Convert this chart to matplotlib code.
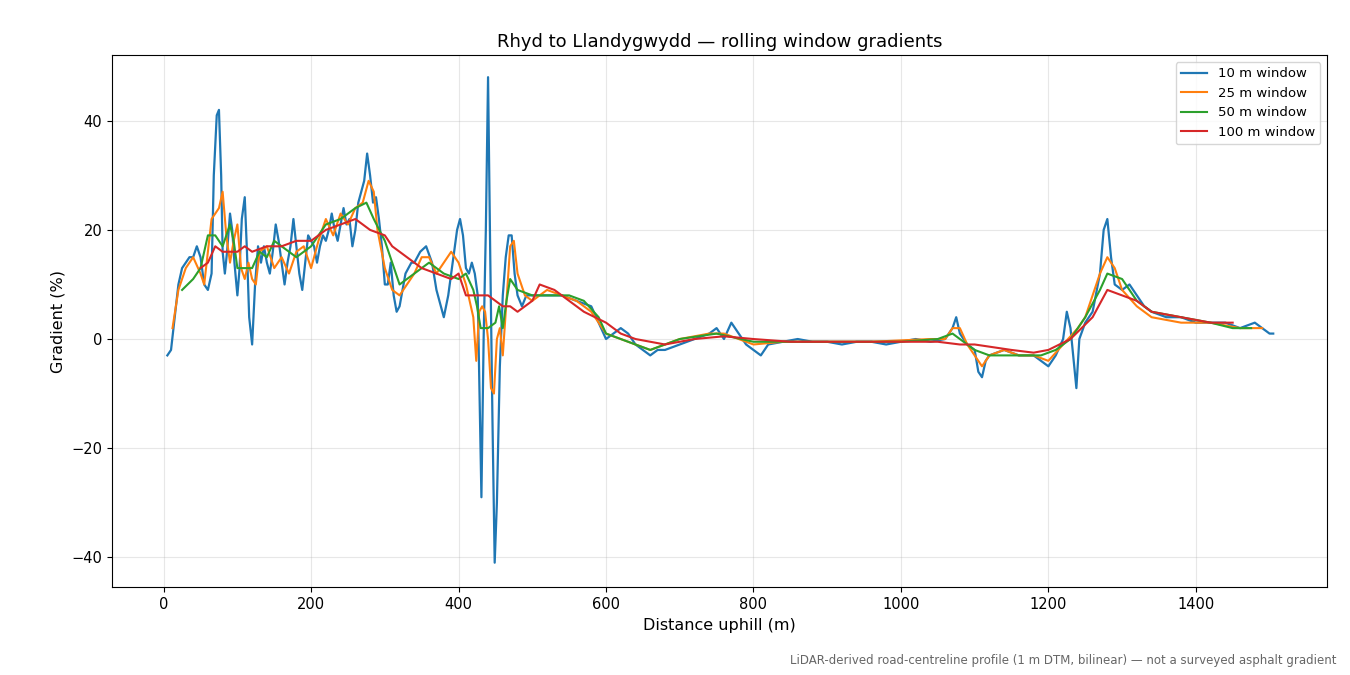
import numpy as np
import matplotlib
matplotlib.use("Agg")
from matplotlib import pyplot as plt

# values (distance m, gradient %)
w10_x = [5,10,15,20,25,30,35,40,45,50,55,60,65,68,72,75,78,80,83,86,90,93,96,100,103,106,110,113,116,120,124,128,132,136,140,144,148,152,156,160,164,168,172,176,180,184,188,192,196,200,204,208,212,216,220,224,228,232,236,240,244,248,252,256,260,264,268,272,276,280,284,288,292,296,300,304,308,312,316,320,324,328,332,336,340,348,356,364,370,376,380,386,392,398,402,406,410,414,418,422,426,431,434,437,440,443,446,449,452,456,460,464,468,472,476,480,486,492,500,520,540,560,580,590,600,610,620,630,640,650,660,670,680,700,720,740,750,760,770,780,790,800,810,820,840,860,880,900,920,940,960,980,1000,1020,1040,1060,1070,1075,1080,1090,1100,1105,1110,1115,1120,1140,1160,1180,1200,1210,1220,1225,1230,1235,1238,1242,1250,1260,1270,1275,1280,1285,1290,1300,1310,1320,1330,1340,1360,1380,1400,1420,1440,1460,1480,1490,1500,1505]
w10_y = [-3,-2,4,10,13,14,15,15,17,15,10,9,12,30,41,42,30,16,12,16,23,20,14,8,13,22,26,16,4,-1,10,17,14,17,14,12,16,21,18,14,10,14,17,22,17,12,9,14,19,18,17,14,17,19,18,20,23,20,18,21,24,21,22,17,20,25,27,29,34,30,25,26,22,17,10,10,14,8,5,6,9,12,13,14,14,16,17,14,9,6,4,8,14,20,22,19,13,12,14,12,8,-29,0,20,48,15,-15,-41,-30,-5,8,15,19,19,12,8,6,8,8,8,8,7,6,3,0,1,2,1,-1,-2,-3,-2,-2,-1,0,1,2,0,3,1,-1,-2,-3,-1,-0.5,0,-0.5,-0.5,-1,-0.5,-0.5,-1,-0.5,0,-0.5,0,2,4,1,-1,-2,-6,-7,-4,-3,-2,-3,-3,-5,-3,0,5,2,-5,-9,0,3,5,12,20,22,15,10,9,10,8,6,5,4,4,3,3,3,2,3,2,1,1]

w25_x = [12,20,30,40,50,55,60,65,70,75,80,85,90,95,100,105,110,115,120,125,130,140,150,160,170,180,190,200,210,220,230,240,250,260,270,278,285,290,300,310,320,330,340,350,360,370,380,390,400,410,420,424,428,432,436,440,444,448,452,456,460,464,470,475,480,490,500,510,520,540,560,580,600,620,640,660,680,700,740,760,780,800,840,900,960,1040,1060,1070,1080,1090,1100,1110,1120,1140,1160,1180,1200,1220,1240,1250,1260,1270,1280,1290,1300,1320,1340,1380,1420,1460,1490]
w25_y = [2,9,13,15,12,10,16,22,23,24,27,19,14,18,21,13,11,14,11,10,16,17,13,15,12,16,17,13,18,22,19,23,21,24,25,29,27,20,13,9,8,10,12,15,15,12,14,16,14,10,4,-4,5,6,5,0,-9,-10,0,2,-3,5,17,18,12,8,7,8,9,8,7,5,1,0,-1,-2,-1,0,1,1,0,-1,-0.5,-0.5,-0.5,0,0,2,2,-1,-3,-5,-3,-2,-3,-3,-4,-1,2,4,8,12,15,13,9,6,4,3,3,2,2]

w50_x = [25,40,50,60,70,75,80,90,95,100,110,120,130,140,150,160,170,180,200,220,240,250,260,275,285,300,310,320,340,360,380,400,410,420,425,430,440,450,455,460,465,470,480,500,520,550,570,590,600,620,640,660,700,750,800,850,900,1000,1050,1070,1080,1100,1120,1160,1190,1210,1230,1250,1270,1280,1300,1320,1340,1380,1420,1450,1475]
w50_y = [9,11,13,19,19,18,17,21,18,13,13,13,16,15,18,17,16,15,17,21,22,23,24,25,22,18,14,10,12,14,12,11,12,9,6,2,2,3,6,2,7,11,9,8,8,8,7,4,1,0,-1,-2,0,1,-0.5,-0.5,-0.5,-0.5,0,1,0,-2,-3,-3,-3,-2,0,4,9,12,11,7,5,4,3,2,2]

w100_x = [50,60,70,80,100,110,120,140,160,180,200,220,240,260,270,280,300,310,330,350,370,390,400,410,420,430,440,450,460,470,480,490,500,510,530,550,570,600,620,640,680,720,760,800,850,900,950,1000,1050,1080,1100,1150,1180,1200,1230,1260,1280,1300,1320,1340,1380,1420,1450]
w100_y = [13,14,17,16,16,17,16,17,17,18,18,20,21,22,21,20,19,17,15,13,12,11,12,8,8,8,8,7,6,6,5,6,7,10,9,7,5,3,1,0,-1,0,0.5,0,-0.5,-0.5,-0.5,-0.5,-0.5,-1,-1,-2,-2.5,-2,0,4,9,8,7,5,4,3,3]

fig, ax = plt.subplots(figsize=(13.5, 6.75), dpi=100)
ax.plot(w10_x, w10_y, color='#1f77b4', lw=1.6, label='10 m window')
ax.plot(w25_x, w25_y, color='#ff7f0e', lw=1.5, label='25 m window')
ax.plot(w50_x, w50_y, color='#2ca02c', lw=1.5, label='50 m window')
ax.plot(w100_x, w100_y, color='#d62728', lw=1.5, label='100 m window')

ax.set_xlim(-70, 1578)
ax.set_ylim(-45.5, 52)
ax.grid(True, alpha=0.3)
ax.set_title('Rhyd to Llandygwydd — rolling window gradients', fontsize=13)
ax.set_xlabel('Distance uphill (m)', fontsize=11.5)
ax.set_ylabel('Gradient (%)', fontsize=11.5)
ax.tick_params(labelsize=10.5)
ax.legend(loc='upper right', fontsize=9.5)
fig.subplots_adjust(left=0.083, right=0.983, top=0.918, bottom=0.13)
fig.text(0.99, 0.012, 'LiDAR-derived road-centreline profile (1 m DTM, bilinear) — not a surveyed asphalt gradient',
         ha='right', va='bottom', fontsize=8.5, color='#666666')
fig.savefig('out.png')
